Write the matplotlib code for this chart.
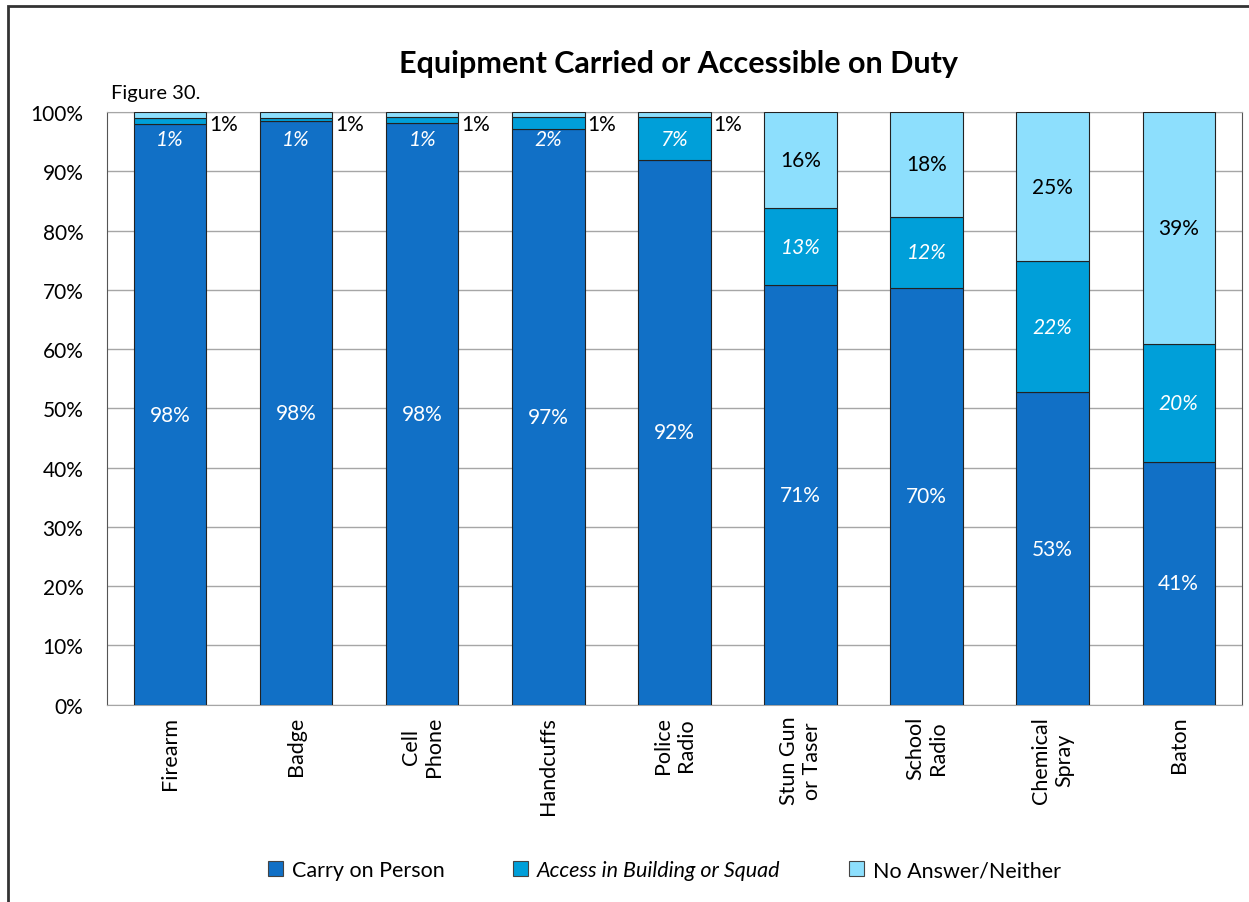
import matplotlib
matplotlib.use("Agg")
import matplotlib.pyplot as plt
import matplotlib.patches as mpatches
import numpy as np

plt.rcParams['font.family'] = ['Lato', 'DejaVu Sans']

# data (percent)
categories = ["Firearm", "Badge", "Cell\nPhone", "Handcuffs", "Police\nRadio",
              "Stun Gun\nor Taser", "School\nRadio", "Chemical\nSpray", "Baton"]
carry = [97.9, 98.4, 98.1, 97.2, 91.9, 70.8, 70.3, 52.7, 40.9]
access = [1.0, 0.6, 1.0, 1.9, 7.2, 13.0, 12.0, 22.1, 20.0]
neither = [1.1, 1.0, 0.9, 0.9, 0.9, 16.2, 17.7, 25.2, 39.1]
series_names = ["Carry on Person", "Access in Building or Squad", "No Answer/Neither"]
colors = ["#1170C6", "#009FD9", "#8DDFFD"]
yticks = [0, 10, 20, 30, 40, 50, 60, 70, 80, 90, 100]

fig = plt.figure(figsize=(12.49, 9.03), dpi=100)
ax = fig.add_axes([0.0857, 0.2185, 0.9085, 0.6564])

x = np.arange(len(categories))
w = 0.574
carry = np.array(carry)
access = np.array(access)
neither = np.array(neither)

ax.bar(x, carry, w, color=colors[0], edgecolor="#222222", linewidth=0.8, zorder=3)
ax.bar(x, access, w, bottom=carry, color=colors[1], edgecolor="#222222", linewidth=0.8, zorder=3)
ax.bar(x, neither, w, bottom=carry + access, color=colors[2], edgecolor="#222222", linewidth=0.8, zorder=3)

fs = 15
for i in range(len(categories)):
    ax.text(x[i], carry[i] / 2, f"{carry[i]:.0f}%", ha="center", va="center",
            color="white", fontsize=fs, zorder=4)
    # small segments: label pushed down a little, like the original
    ya = min(carry[i] + access[i] / 2, 95.5)
    ax.text(x[i], ya, f"{access[i]:.0f}%", ha="center", va="center",
            color="white", fontsize=fs, style="italic", zorder=4)
    if neither[i] < 5:
        ax.text(x[i] + w / 2 + 0.02, 97.9, f"{neither[i]:.0f}%", ha="left", va="center",
                color="black", fontsize=fs, zorder=4)
    else:
        ax.text(x[i], carry[i] + access[i] + neither[i] / 2, f"{neither[i]:.0f}%",
                ha="center", va="center", color="black", fontsize=fs, zorder=4)

ax.set_xlim(-0.5, len(categories) - 0.5)
ax.set_ylim(0, 100)
ax.set_yticks(yticks)
ax.set_yticklabels([f"{t}%" for t in yticks], fontsize=15)
ax.set_xticks(x)
ax.set_xticklabels(categories, rotation=90, fontsize=15.5, va="top", ha="center",
                   multialignment="center")
ax.tick_params(axis="both", length=0)
ax.tick_params(axis="x", pad=8)
ax.tick_params(axis="y", pad=17)
ax.yaxis.grid(True, color="#A6A6A6", linewidth=1, zorder=0)
for s in ax.spines.values():
    s.set_color("#A6A6A6")
ax.spines["left"].set_color("#555555")
ax.spines["right"].set_color("#555555")

fig.text(0.543, 0.929, "Equipment Carried or Accessible on Duty", ha="center", va="center",
         fontsize=22, fontweight="bold")
fig.text(0.089, 0.897, "Figure 30.", ha="left", va="center", fontsize=14.5)

handles = [mpatches.Patch(facecolor=c, edgecolor="#444444", linewidth=0.8) for c in colors]
leg = fig.legend(handles, series_names, loc="center", bbox_to_anchor=(0.532, 0.035),
                 ncol=3, frameon=False, fontsize=15.5, columnspacing=3.2,
                 handlelength=0.7, handleheight=0.7, handletextpad=0.4)
leg.get_texts()[1].set_style("italic")

# outer frame of the original figure
border = mpatches.Rectangle((8 / 1249, -0.1), 1.2, 1.1 - 7 / 903, transform=fig.transFigure,
                            fill=False, edgecolor="#333333", linewidth=2, clip_on=False)
fig.patches.append(border)

fig.savefig("out.png", dpi=100)
